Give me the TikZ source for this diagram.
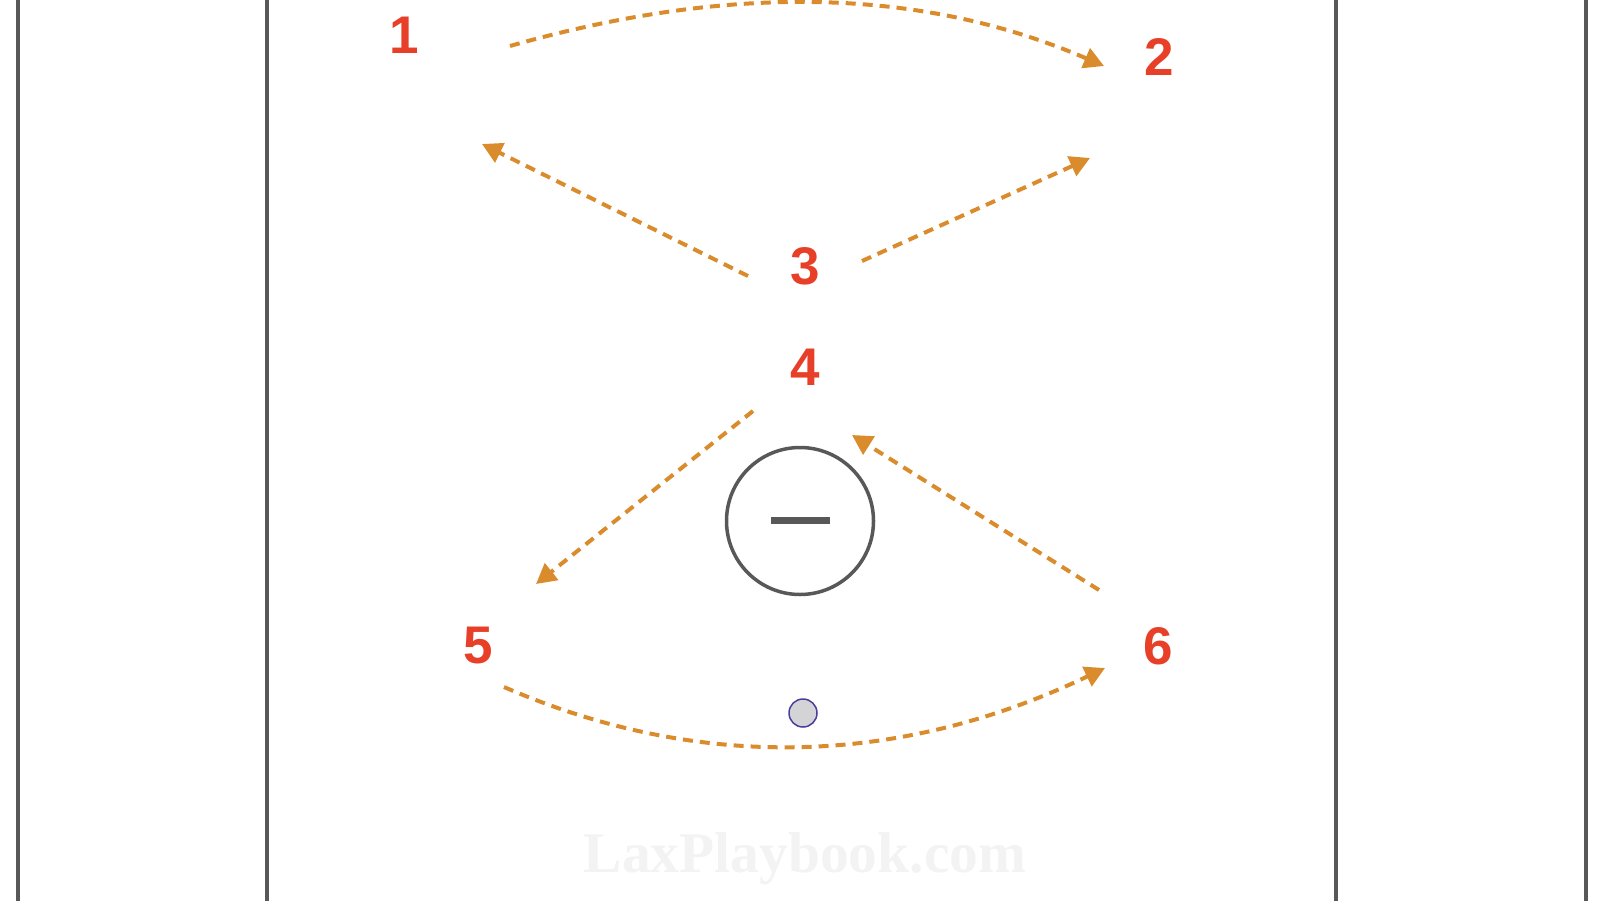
\documentclass[tikz,border=0pt]{standalone}
\usepackage{fontspec}
\setmainfont{Liberation Serif}
\newfontfamily\numfont{Liberation Sans}
\usetikzlibrary{arrows.meta}
\definecolor{fieldline}{RGB}{88,88,88}
\definecolor{numred}{RGB}{232,64,40}
\definecolor{passorange}{RGB}{218,140,45}
\definecolor{ballfill}{RGB}{212,212,214}
\definecolor{ballrim}{RGB}{72,62,158}
\definecolor{wmark}{RGB}{243,243,243}
\tikzset{
  player/.style={font=\numfont\bfseries\fontsize{53}{60}\selectfont, text=numred, inner sep=0pt},
  pass/.style={draw=passorange, line width=4pt, dash pattern=on 10pt off 7pt,
    -{Triangle[length=20pt,width=21pt]}},
  fline/.style={draw=fieldline, line width=3.5pt},
}
\begin{document}
\begin{tikzpicture}[x=1pt,y=-1pt]
\useasboundingbox (0,0) rectangle (1600,900);
% watermark
\node[anchor=base, text=wmark, font=\bfseries\fontsize{57.5}{66}\selectfont, inner sep=0pt] (wm) at (805,872) {LaxPlaybook.com};
% field lines
\draw[fline] (18,-5) -- (18,905);
\draw[fline] (267,-5) -- (267,905);
\draw[fline] (1336,-5) -- (1336,905);
\draw[fline] (1586,-5) -- (1586,905);
% players
\node[player] (p1) at (404,35) {1};
\node[player] (p2) at (1159,57) {2};
\node[player] (p3) at (805,266) {3};
\node[player] (p4) at (805,367) {4};
\node[player] (p5) at (478,646) {5};
\node[player] (p6) at (1158,646) {6};
% goalie crease
\node[circle, draw=fieldline, line width=3.5pt, minimum size=147pt, inner sep=0pt] (crease) at (800,521) {};
\fill[fieldline] (771,517) rectangle (830,524);
% ball
\node[circle, fill=ballfill, draw=ballrim, line width=1.5pt, minimum size=28pt, inner sep=0pt] (ball) at (803,713) {};
% pass endpoints
\coordinate (a1s) at (510,46);  \coordinate (a1e) at (1104,66);
\coordinate (a2s) at (748,276); \coordinate (a2e) at (482,144);
\coordinate (a3s) at (862,261); \coordinate (a3e) at (1090,158);
\coordinate (a4s) at (753,411); \coordinate (a4e) at (536,584);
\coordinate (a5s) at (1099,590);\coordinate (a5e) at (852,435);
\coordinate (a6s) at (504,687); \coordinate (a6e) at (1105,668);
% passes
\draw[pass] (a1s) .. controls (735,-18) and (925,-11) .. (a1e);
\draw[pass] (a2s) -- (a2e);
\draw[pass] (a3s) -- (a3e);
\draw[pass] (a4s) -- (a4e);
\draw[pass] (a5s) -- (a5e);
\draw[pass] (a6s) .. controls (700,772) and (900,766) .. (a6e);
\end{tikzpicture}
\end{document}
